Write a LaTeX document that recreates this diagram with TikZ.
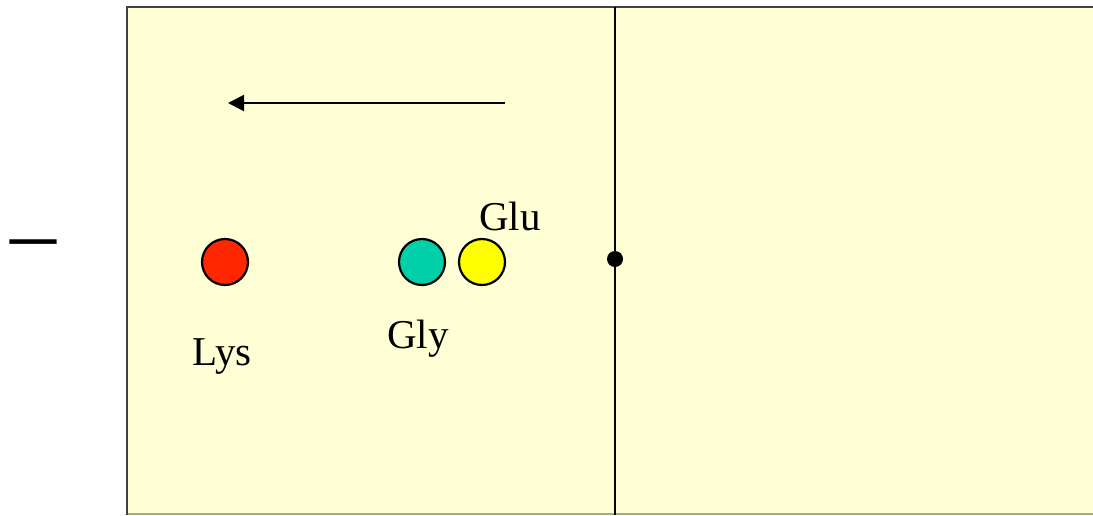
\documentclass[tikz,border=0pt]{standalone}
\usepackage{fontspec}
\setmainfont{Liberation Serif}
\usetikzlibrary{arrows.meta}
\definecolor{panel}{RGB}{255,255,214}
\definecolor{lysred}{RGB}{255,38,0}
\definecolor{glyteal}{RGB}{0,208,170}
\definecolor{gluyellow}{RGB}{255,255,0}
\definecolor{bottomline}{RGB}{170,170,130}
\tikzset{
  acid/.style={circle, draw=black, line width=2.2pt, minimum size=46pt, inner sep=0pt},
  lbl/.style={font=\fontsize{41}{48}\selectfont, inner sep=0pt},
}
\begin{document}
\begin{tikzpicture}[x=1pt,y=-1pt]
\useasboundingbox (0,0) rectangle (1093,515);
% panel
\fill[panel] (127,7) rectangle (1093,514);
\draw[bottomline, line width=1.5pt] (127,514) -- (1093,514);
\draw[black!75, line width=2.5pt] (1093,7) -- (127,7) -- (127,515);
% membrane line
\coordinate (mtop) at (615,7);
\coordinate (mbot) at (615,515);
\draw[black, line width=2pt] (mtop) -- (mbot);
\node[circle, fill=black, minimum size=16pt, inner sep=0pt] (dot) at (615,259) {};
% minus sign
\node[font=\fontsize{92}{100}\selectfont, inner sep=0pt] (minus) at (33,252) {–};
% arrow
\coordinate (astart) at (505,103);
\coordinate (aend) at (228,103);
\draw[line width=2pt, -{Triangle[length=16pt,width=16pt]}] (astart) -- (aend);
% amino acids
\node[acid, fill=lysred] (lys) at (225,262) {};
\node[acid, fill=glyteal] (gly) at (422,262) {};
\node[acid, fill=gluyellow] (glu) at (482,262) {};
\node[lbl] (lyslbl) at (222,356) {Lys};
\node[lbl] (glylbl) at (418,339) {Gly};
\node[lbl] (glulbl) at (510,216) {Glu};
\end{tikzpicture}
\end{document}
